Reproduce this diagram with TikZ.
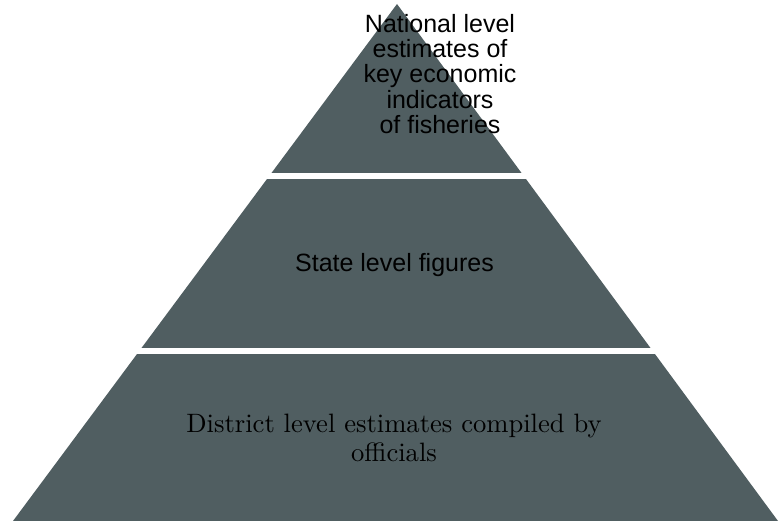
\documentclass[tikz,border=0pt]{standalone}
\usepackage{fontspec}
\newfontfamily\arialike{Liberation Sans}
\newfontfamily\lmten[Extension=.otf]{lmroman10-regular}
\definecolor{pyrfill}{RGB}{80,94,97}
\begin{document}
\begin{tikzpicture}[x=1pt,y=-1pt,
  sanslabel/.style={font=\arialike\fontsize{25}{25.25}\selectfont, align=center, text=black, inner sep=0pt},
  seriflabel/.style={font=\lmten\fontsize{26.6}{29}\selectfont, align=center, text=black, inner sep=0pt},
  tier/.style={fill=pyrfill}]
\useasboundingbox (0,0) rectangle (780,529);
\fill[white] (0,0) rectangle (780,529);
\coordinate (apex) at (397,4);
\coordinate (bl) at (13,521);
\coordinate (br) at (778,521);
\begin{scope}
  \clip (apex) -- (bl) -- (br) -- cycle;
  \fill[tier] (0,0) rectangle (780,173);
  \fill[tier] (0,179) rectangle (780,348);
  \fill[tier] (0,354) rectangle (780,521);
\end{scope}
\node[sanslabel] (toplabel) at (440,74) {National level\\estimates of\\key economic\\indicators\\of fisheries};
\node[sanslabel] (midlabel) at (394.5,265) {State level figures};
\node[seriflabel] (botlabel) at (394,437.5) {District level estimates compiled by\\officials};
\end{tikzpicture}
\end{document}
